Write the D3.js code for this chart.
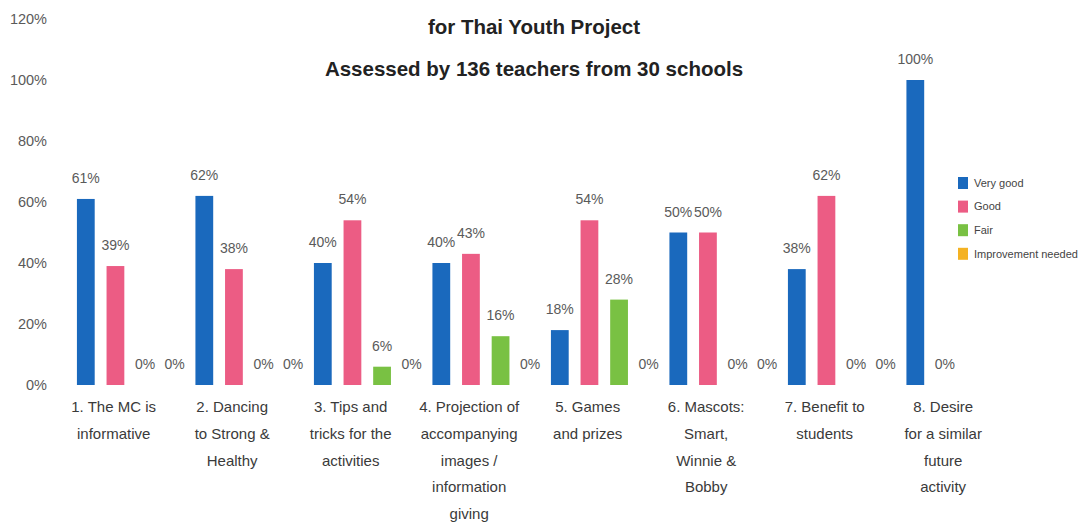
<!DOCTYPE html>
<html>
<head>
<meta charset="utf-8">
<script src="https://cdn.jsdelivr.net/npm/d3@7"></script>
<style>
  html, body { margin: 0; padding: 0; background: #fff; }
  svg { display: block; font-family: "Liberation Sans", Arial, Helvetica, sans-serif; }
</style>
</head>
<body>
<svg id="chart" width="1081" height="525"></svg>
<script>
// Survey categories (line breaks mark where each label wraps)
const categories = [
  "1. The MC is\ninformative",
  "2. Dancing\nto Strong &\nHealthy",
  "3. Tips and\ntricks for the\nactivities",
  "4. Projection of\naccompanying\nimages /\ninformation\ngiving",
  "5. Games\nand prizes",
  "6. Mascots:\nSmart,\nWinnie &\nBobby",
  "7. Benefit to\nstudents",
  "8. Desire\nfor a similar\nfuture\nactivity"
];

const seriesNames = ["Very good", "Good", "Fair", "Improvement needed"];
const seriesColors = ["#1a69bd", "#ec5c84", "#79c143", "#f4b223"];

// Percentages per rating (null = not reported)
const veryGood    = [61, 62, 40, 40, 18, 50, 38, 100];
const good        = [39, 38, 54, 43, 54, 50, 62, 0];
const fair        = [0, 0, 6, 16, 28, 0, 0, null];
const improvement = [0, 0, 0, 0, 0, 0, 0, null];

const yTicks = [0, 20, 40, 60, 80, 100, 120];

const titleLines = ["for Thai Youth Project", "Assessed by 136 teachers from 30 schools"];

const seriesValues = [veryGood, good, fair, improvement];

const svg = d3.select("#chart");

const x0 = d3.scaleBand().domain(categories).range([71, 1019]).padding(0);
const x1 = d3.scaleBand().domain(seriesNames).range([0, x0.bandwidth()])
  .paddingInner(0.4).paddingOuter(0.2);
const y = d3.scaleLinear().domain([0, 120]).range([385, 19]);
const color = d3.scaleOrdinal().domain(seriesNames).range(seriesColors);

// Y axis: tick labels only
const yAxis = svg.append("g")
  .attr("transform", "translate(49,0)")
  .call(d3.axisLeft(y).tickValues(yTicks).tickFormat(d => d + "%").tickSize(0).tickPadding(2));
yAxis.select(".domain").remove();
yAxis.selectAll("text")
  .attr("font-size", 14.5)
  .attr("fill", "#5a5a5a")
  .attr("font-family", "Liberation Sans, Arial, sans-serif");

// Flatten into rows for drawing
const rows = [];
categories.forEach((c, i) => {
  seriesNames.forEach((s, j) => {
    const v = seriesValues[j][i];
    if (v !== null) rows.push({ cat: c, series: s, value: v });
  });
});

const groups = svg.append("g");

groups.selectAll("rect.bar")
  .data(rows)
  .join("rect")
  .attr("class", "bar")
  .attr("x", d => x0(d.cat) + x1(d.series))
  .attr("width", x1.bandwidth())
  .attr("y", d => y(d.value))
  .attr("height", d => y(0) - y(d.value))
  .attr("fill", d => color(d.series));

groups.selectAll("text.val")
  .data(rows)
  .join("text")
  .attr("class", "val")
  .attr("x", d => x0(d.cat) + x1(d.series) + x1.bandwidth() / 2)
  .attr("y", d => y(d.value) - 16)
  .attr("text-anchor", "middle")
  .attr("font-size", 14)
  .attr("fill", "#5a5a5a")
  .text(d => d.value + "%");

// Category labels under each group
const catLabels = svg.append("g");
categories.forEach(c => {
  const lines = c.split("\n");
  const t = catLabels.append("text")
    .attr("x", x0(c) + x0.bandwidth() * 0.36)
    .attr("y", 412)
    .attr("text-anchor", "middle")
    .attr("font-size", 15)
    .attr("fill", "#3a3a3a");
  lines.forEach((ln, k) => {
    t.append("tspan")
      .attr("x", x0(c) + x0.bandwidth() * 0.36)
      .attr("dy", k === 0 ? 0 : 26.8)
      .text(ln);
  });
});

// Titles
svg.selectAll("text.title")
  .data(titleLines)
  .join("text")
  .attr("class", "title")
  .attr("x", 534)
  .attr("y", (d, i) => 34 + i * 42)
  .attr("text-anchor", "middle")
  .attr("font-size", 20.5)
  .attr("font-weight", "bold")
  .attr("fill", "#222")
  .text(d => d);

// Legend
const legend = svg.append("g").attr("transform", "translate(958,177)");
const items = legend.selectAll("g")
  .data(seriesNames)
  .join("g")
  .attr("transform", (d, i) => `translate(0,${i * 23.6})`);
items.append("rect")
  .attr("width", 10).attr("height", 12)
  .attr("fill", d => color(d));
items.append("text")
  .attr("x", 16).attr("y", 6)
  .attr("dy", "0.35em")
  .attr("font-size", 11)
  .attr("fill", "#444")
  .text(d => d);
</script>
</body>
</html>
